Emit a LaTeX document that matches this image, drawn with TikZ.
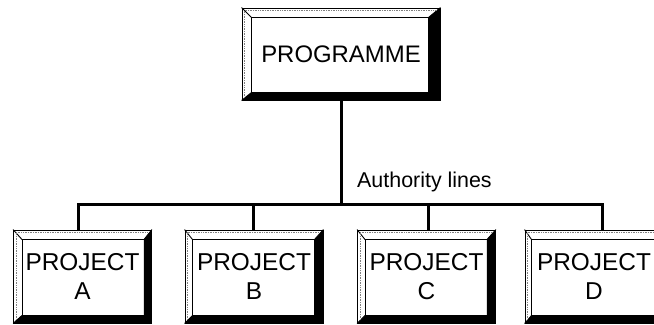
\documentclass[tikz,border=0pt]{standalone}
\usepackage{fontspec}
\setmainfont{Liberation Sans}
\tikzset{
  btn/.style={draw, line width=0.9bp, fill=white, inner sep=0pt, align=center,
    minimum width=138bp, minimum height=93bp},
  projbtn/.style={btn, font=\fontsize{24.5}{28.5}\selectfont},
  conn/.style={line width=3bp, line join=miter},
  bevel/.style={line width=0.9bp}
}
\newcommand{\bevelbox}[5]{% name, L, T, R, B
  \fill[black] (#1.north east) -- (#1.south east) -- (#1.south west)
     -- ([shift={(#2,-#5)}]#1.south west) -- ([shift={(-#4,-#5)}]#1.south east)
     -- ([shift={(-#4,#3)}]#1.north east) -- cycle;
  \draw[bevel] ([shift={(#2,#3)}]#1.north west) rectangle ([shift={(-#4,-#5)}]#1.south east);
  \draw[bevel] (#1.north west) -- ([shift={(#2,#3)}]#1.north west);
  \draw[bevel] (#1.north east) -- ([shift={(-#4,#3)}]#1.north east);
  \draw[bevel] (#1.south west) -- ([shift={(#2,-#5)}]#1.south west);
  \draw[line width=0.7bp, densely dotted, gray] ([shift={(3,3)}]#1.north west) -- ([shift={(-4,3)}]#1.north east);
  \draw[line width=0.7bp, densely dotted, gray] ([shift={(3,3)}]#1.north west) -- ([shift={(3,-3)}]#1.south west);
}
\begin{document}
\begin{tikzpicture}[x=1bp,y=-1bp]
\useasboundingbox[fill=white] (0,0) rectangle (654,324);
\node[btn, minimum width=198bp, minimum height=92bp, font=\fontsize{24}{28}\selectfont] (prog) at (341,54) {PROGRAMME};
\node[projbtn] (A) at (82.5,276.5) {PROJECT\\A};
\node[projbtn] (B) at (254,276.5) {PROJECT\\B};
\node[projbtn] (C) at (426.5,276.5) {PROJECT\\C};
\node[projbtn] (D) at (594,276.5) {PROJECT\\D};
\bevelbox{prog}{10}{10}{12}{8}
\bevelbox{A}{9}{10}{8}{8}
\bevelbox{B}{8}{10}{9}{8}
\bevelbox{C}{8}{10}{9}{8}
\bevelbox{D}{7}{10}{9}{8}
\coordinate (jA) at (78,204);
\coordinate (jB) at (253,204);
\coordinate (jC) at (428,204);
\coordinate (jD) at (602,204);
\coordinate (jM) at (prog.south |- jA);
\draw[conn] (jA |- A.north) -- (jA) -- (jD) -- (jD |- D.north);
\draw[conn] (prog.south) -- (jM);
\draw[conn] (jB) -- (jB |- B.north);
\draw[conn] (jC) -- (jC |- C.north);
\node[anchor=base west, inner sep=0pt, font=\fontsize{21.5}{24}\selectfont] (auth) at (357,187) {Authority lines};
\end{tikzpicture}
\end{document}
